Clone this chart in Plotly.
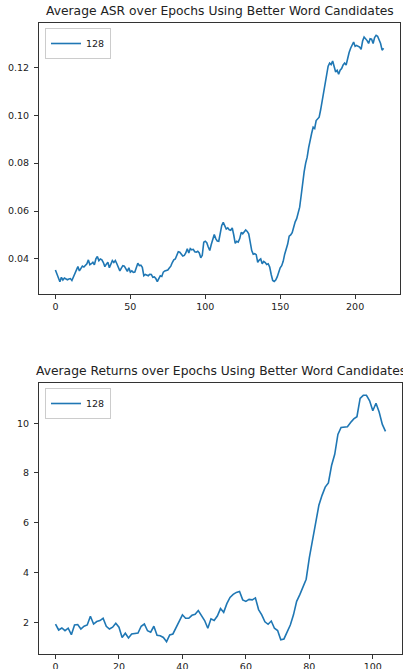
import plotly.graph_objects as go

# ---- data ----
asr_epochs = list(range(220))
asr_values = [
    0.0354, 0.0335, 0.0318, 0.0305, 0.0323, 0.0312, 0.0320, 0.0315, 0.0313, 0.0316,
    0.0318, 0.0310, 0.0325, 0.0340, 0.0351, 0.0368, 0.0350, 0.0362, 0.0370, 0.0366,
    0.0372, 0.0380, 0.0396, 0.0376, 0.0380, 0.0386, 0.0375, 0.0400, 0.0410, 0.0393,
    0.0400, 0.0396, 0.0385, 0.0368, 0.0378, 0.0386, 0.0363, 0.0380, 0.0393, 0.0385,
    0.0393, 0.0380, 0.0368, 0.0350, 0.0362, 0.0372, 0.0370, 0.0355, 0.0348, 0.0363,
    0.0345, 0.0350, 0.0344, 0.0345, 0.0365, 0.0382, 0.0372, 0.0374, 0.0365, 0.0330,
    0.0335, 0.0333, 0.0330, 0.0336, 0.0335, 0.0323, 0.0325, 0.0318, 0.0305, 0.0318,
    0.0330, 0.0327, 0.0345, 0.0350, 0.0353, 0.0354, 0.0362, 0.0370, 0.0385, 0.0396,
    0.0400, 0.0418, 0.0430, 0.0428, 0.0420, 0.0412, 0.0415, 0.0425, 0.0443, 0.0425,
    0.0443, 0.0438, 0.0440, 0.0430, 0.0428, 0.0432, 0.0425, 0.0405, 0.0415, 0.0470,
    0.0474, 0.0468, 0.0450, 0.0435, 0.0460, 0.0477, 0.0502, 0.0485, 0.0475, 0.0474,
    0.0510, 0.0540, 0.0553, 0.0535, 0.0525, 0.0530, 0.0522, 0.0520, 0.0530, 0.0500,
    0.0465, 0.0474, 0.0470, 0.0485, 0.0511, 0.0505, 0.0512, 0.0521, 0.0515, 0.0505,
    0.0470, 0.0435, 0.0420, 0.0422, 0.0418, 0.0386, 0.0395, 0.0400, 0.0380, 0.0390,
    0.0385, 0.0377, 0.0380, 0.0366, 0.0335, 0.0310, 0.0306, 0.0312, 0.0325, 0.0345,
    0.0363, 0.0372, 0.0390, 0.0420, 0.0440, 0.0462, 0.0495, 0.0500, 0.0510, 0.0540,
    0.0555, 0.0568, 0.0590, 0.0616, 0.0665, 0.0720, 0.0765, 0.0800, 0.0825, 0.0865,
    0.0900, 0.0925, 0.0950, 0.0945, 0.0978, 0.0985, 0.0992, 0.1023, 0.1060, 0.1090,
    0.1125, 0.1180, 0.1205, 0.1218, 0.1212, 0.1227, 0.1200, 0.1181, 0.1188, 0.1171,
    0.1188, 0.1195, 0.1210, 0.1218, 0.1210, 0.1240, 0.1262, 0.1280, 0.1295, 0.1306,
    0.1288, 0.1292, 0.1288, 0.1285, 0.1275, 0.1310, 0.1327, 0.1320, 0.1312, 0.1300,
    0.1320, 0.1318, 0.1300, 0.1325, 0.1334, 0.1330, 0.1317, 0.1300, 0.1272, 0.1280,
]

ret_epochs = list(range(105))
ret_values = [
    1.93, 1.69, 1.77, 1.66, 1.76, 1.50, 1.89, 1.91, 1.73, 1.84,
    1.89, 2.24, 1.93, 2.03, 2.07, 2.16, 1.84, 1.73, 1.80, 1.96,
    1.80, 1.39, 1.56, 1.37, 1.53, 1.56, 1.57, 1.84, 1.93, 1.66,
    1.60, 1.84, 1.48, 1.46, 1.39, 1.22, 1.49, 1.53, 1.80, 2.00,
    2.30, 2.16, 2.16, 2.28, 2.32, 2.47, 2.24, 2.07, 1.76, 2.14,
    2.07, 2.25, 2.55, 2.40, 2.75, 3.00, 3.12, 3.20, 3.24, 2.90,
    2.84, 2.92, 2.90, 2.98, 2.51, 2.30, 2.02, 1.92, 2.05, 1.76,
    1.67, 1.30, 1.33, 1.62, 1.89, 2.30, 2.84, 3.11, 3.42, 3.73,
    4.60, 5.35, 6.05, 6.70, 7.10, 7.43, 7.60, 8.30, 8.75, 9.55,
    9.83, 9.83, 9.86, 10.03, 10.17, 10.26, 11.00, 11.12, 11.12, 10.90,
    10.50, 10.80, 10.45, 9.95, 9.67,
]

series_name = "128"
title_top = "Average ASR over Epochs Using Better Word Candidates"
title_bottom = "Average Returns over Epochs Using Better Word Candidates"

# ---- layout helpers ----
W, H = 403, 669
BLUE = "#1f77b4"
FONT = "DejaVu Sans"
AX = "#333333"
TXT = "#222222"


def pad_range(vals, frac=0.05):
    lo, hi = min(vals), max(vals)
    p = (hi - lo) * frac
    return [lo - p, hi + p]


def px_x(a, b):
    return [a / W, b / W]


def px_y(top, bottom):
    return [1 - bottom / H, 1 - top / H]


fig = go.Figure()
fig.add_trace(go.Scatter(x=asr_epochs, y=asr_values, mode="lines", name=series_name,
                         line=dict(color=BLUE, width=1.6), xaxis="x", yaxis="y",
                         legend="legend"))
fig.add_trace(go.Scatter(x=ret_epochs, y=ret_values, mode="lines", name=series_name,
                         line=dict(color=BLUE, width=1.6), xaxis="x2", yaxis="y2",
                         legend="legend2"))

axis_common = dict(showline=True, mirror=True, linecolor=AX, linewidth=1,
                   ticks="outside", ticklen=4, tickcolor=AX, tickwidth=1,
                   showgrid=False, zeroline=False, automargin=False,
                   tickfont=dict(family=FONT, size=9.5, color=TXT))

top_dom_x = px_x(39, 400)
top_dom_y = px_y(23, 294)
bot_dom_x = px_x(39, 402)
bot_dom_y = px_y(383, 654)

legend_common = dict(xanchor="left", yanchor="top",
                     bgcolor="white", bordercolor="#cccccc", borderwidth=1,
                     font=dict(family=FONT, size=9.5, color=TXT),
                     itemwidth=30, tracegroupgap=0)

fig.update_layout(
    width=W, height=H,
    margin=dict(l=0, r=0, t=0, b=0, autoexpand=False),
    paper_bgcolor="white", plot_bgcolor="white",
    font=dict(family=FONT, color=TXT),
    xaxis=dict(domain=top_dom_x, anchor="y", range=pad_range(asr_epochs),
               dtick=50, tick0=0, **axis_common),
    yaxis=dict(domain=top_dom_y, anchor="x", range=pad_range(asr_values),
               dtick=0.02, tick0=0, tickformat=".2f", ticklabelstandoff=3, **axis_common),
    xaxis2=dict(domain=bot_dom_x, anchor="y2", range=pad_range(ret_epochs),
                dtick=20, tick0=0, **axis_common),
    yaxis2=dict(domain=bot_dom_y, anchor="x2", range=pad_range(ret_values),
                dtick=2, tick0=0, ticklabelstandoff=3, **axis_common),
    legend=dict(x=45 / W, y=1 - 28 / H, **legend_common),
    legend2=dict(x=45 / W, y=1 - 388 / H, **legend_common),
    showlegend=True,
    annotations=[
        dict(text=title_top, x=(top_dom_x[0] + top_dom_x[1]) / 2, y=top_dom_y[1],
             xref="paper", yref="paper", xanchor="center", yanchor="bottom",
             yshift=3, showarrow=False,
             font=dict(family=FONT, size=12.3, color=TXT)),
        dict(text=title_bottom, x=(bot_dom_x[0] + bot_dom_x[1]) / 2, y=bot_dom_y[1],
             xref="paper", yref="paper", xanchor="center", yanchor="bottom",
             yshift=3, showarrow=False,
             font=dict(family=FONT, size=12.3, color=TXT)),
    ],
)

fig.write_html(
    "out.html",
    config={"displayModeBar": False},
    post_script="document.body.style.margin='0';document.body.style.overflow='hidden';",
)
